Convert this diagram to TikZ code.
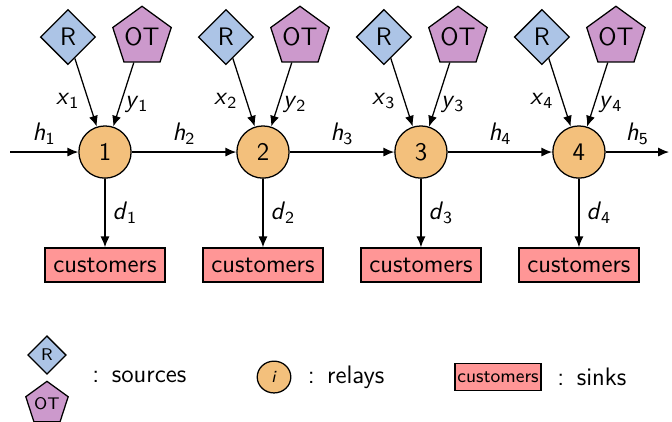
\documentclass[tikz,border=0pt]{standalone}
\usetikzlibrary{shapes.geometric,arrows.meta}
\definecolor{relayc}{RGB}{243,192,124}
\definecolor{srcR}{RGB}{172,196,230}
\definecolor{srcOT}{RGB}{204,153,204}
\definecolor{sinkc}{RGB}{255,150,150}
\newcommand{\lab}[2]{\textit{#1}\textsubscript{#2}}
\tikzset{
  relay/.style={circle,draw,fill=relayc,minimum size=0.87cm,inner sep=0pt},
  srcr/.style={diamond,draw,fill=srcR,minimum size=0.92cm,inner sep=0pt},
  srcot/.style={regular polygon,regular polygon sides=5,draw,fill=srcOT,minimum size=0.96cm,inner sep=0pt},
  sink/.style={rectangle,draw,fill=sinkc,minimum width=2cm,minimum height=0.57cm,inner sep=1pt}
}
\begin{document}
\begin{tikzpicture}[font=\fontsize{12}{14}\selectfont\sffamily,>={Latex[length=1.8mm,width=1.5mm]},semithick]
\useasboundingbox (0,0) rectangle (11.2,7.017);
\pgfmathsetmacro{\dx}{2.633};
% relays, sources and sinks
\foreach \i in {1,...,4}{
  \pgfmathsetmacro{\xx}{1.75+(\i-1)*\dx}
  \node[relay] (r\i) at (\xx,4.483) {\i};
  \node[srcr] (R\i) at (\xx-0.617,6.4) {R};
  \node[srcot] (OT\i) at (\xx+0.617,6.4) {OT};
  \node[sink] (c\i) at (\xx,2.6) {customers};
  \draw[->] (R\i) -- node[pos=0.62,left,inner sep=4pt]{\lab{x}{\i}} (r\i);
  \draw[->] (OT\i) -- node[pos=0.66,right,inner sep=2pt]{\lab{y}{\i}} (r\i);
  \draw[->] (r\i) -- node[right]{\lab{d}{\i}} (c\i);
}
\coordinate (in) at (0.167,4.483);
\coordinate (out) at (11.15,4.483);
\draw[->] (in) -- node[above]{\lab{h}{1}} (r1);
\draw[->] (r1) -- node[above]{\lab{h}{2}} (r2);
\draw[->] (r2) -- node[above]{\lab{h}{3}} (r3);
\draw[->] (r3) -- node[above]{\lab{h}{4}} (r4);
\draw[->] (r4) -- node[above]{\lab{h}{5}} (out);
% legend
\node[srcr,minimum size=0.64cm,font=\footnotesize\sffamily] (lR) at (0.783,1.1) {R};
\node[srcot,minimum size=0.67cm,font=\footnotesize\sffamily] (lOT) at (0.783,0.29) {OT};
\node[right,inner sep=0pt] (ls) at (1.53,0.733) {:\ \,sources};
\node[relay,minimum width=0.56cm,minimum height=0.53cm,ellipse,font=\footnotesize\sffamily] (lr) at (4.567,0.733) {\textit{i}};
\node[right,inner sep=0pt] (lrt) at (5.12,0.733) {:\ \,relays};
\node[sink,minimum width=1.43cm,minimum height=0.45cm,font=\fontsize{9}{10}\selectfont\sffamily] (lc) at (8.3,0.733) {customers};
\node[right,inner sep=0pt] (lct) at (9.28,0.733) {:\ \,sinks};
\end{tikzpicture}
\end{document}
